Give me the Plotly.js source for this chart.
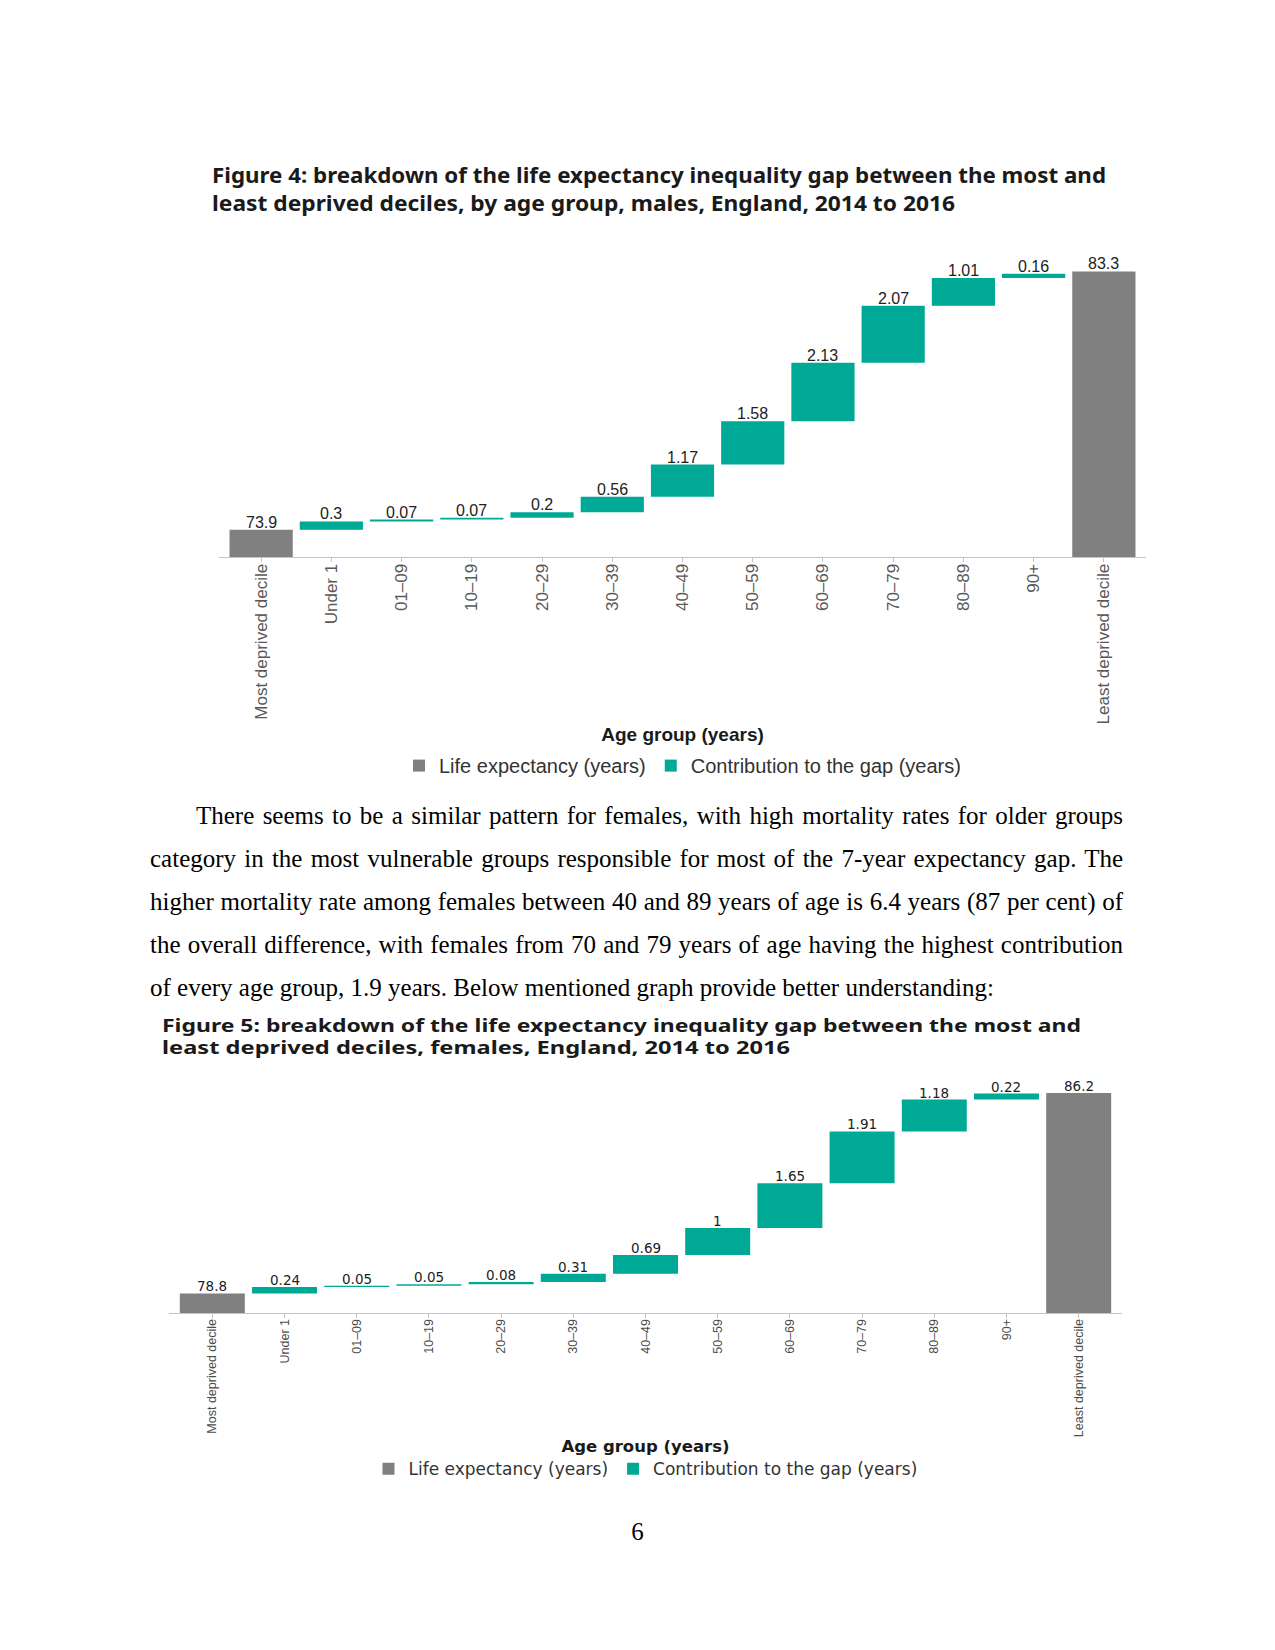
<!DOCTYPE html>
<html><head><meta charset="utf-8">
<script src="https://cdn.plot.ly/plotly-3.0.1.min.js"></script>
<style>
html,body{margin:0;padding:0;background:#fff;}
body{width:1275px;height:1650px;position:relative;overflow:hidden;}
.t{position:absolute;white-space:nowrap;transform-origin:0 50%;}
.title{font-family:"Noto Sans","Liberation Sans",sans-serif;font-weight:700;color:#1a1a1a;}
.para{font-family:"Liberation Serif","Times New Roman",serif;font-size:25px;color:#000;line-height:43px;}
.chart{position:absolute;left:0;width:1275px;}
</style></head><body>

<div id="t1a" class="t title" style="left:212px;top:161px;font-size:21px;line-height:28px;">Figure 4: breakdown of the life expectancy inequality gap between the most and</div>
<div id="t1b" class="t title" style="left:212px;top:189px;font-size:21px;line-height:28px;">least deprived deciles, by age group, males, England, 2014 to 2016</div>

<div id="c1" class="chart" style="top:220px;height:570px;"></div>

<div id="p1" class="t para" style="left:196px;top:794px;">There seems to be a similar pattern for females, with high mortality rates for older groups</div>
<div id="p2" class="t para" style="left:150px;top:837px;">category in the most vulnerable groups responsible for most of the 7-year expectancy gap. The</div>
<div id="p3" class="t para" style="left:150px;top:880px;">higher mortality rate among females between 40 and 89 years of age is 6.4 years (87 per cent) of</div>
<div id="p4" class="t para" style="left:150px;top:923px;">the overall difference, with females from 70 and 79 years of age having the highest contribution</div>
<div id="p5" class="t para" style="left:150px;top:966px;">of every age group, 1.9 years. Below mentioned graph provide better understanding:</div>

<div id="t2a" class="t title" style="left:162px;top:1015px;font-size:17px;line-height:22px;">Figure 5: breakdown of the life expectancy inequality gap between the most and</div>
<div id="t2b" class="t title" style="left:162px;top:1037px;font-size:17px;line-height:22px;">least deprived deciles, females, England, 2014 to 2016</div>

<div id="c2" class="chart" style="top:1050px;height:450px;"></div>

<div class="t para" style="left:0;width:1275px;text-align:center;top:1510px;">6</div>

<script>
// ---------------- data ----------------
const categories = ["Most deprived decile","Under 1","01\u201309","10\u201319","20\u201329","30\u201339","40\u201349","50\u201359","60\u201369","70\u201379","80\u201389","90+","Least deprived decile"];

const maleMostDeprived = 73.9;
const maleLeastDeprived = 83.3;
const maleContrib = [0.3, 0.07, 0.07, 0.2, 0.56, 1.17, 1.58, 2.13, 2.07, 1.01, 0.16];

const femaleMostDeprived = 78.8;
const femaleLeastDeprived = 86.2;
const femaleContrib = [0.24, 0.05, 0.05, 0.08, 0.31, 0.69, 1, 1.65, 1.91, 1.18, 0.22];

const legendNames = ["Life expectancy (years)", "Contribution to the gap (years)"];
const axisTitle = "Age group (years)";

// ---------------- helpers ----------------
const GRAY = '#808080', TEAL = '#00a896';

function cumulativeBases(start, contrib) {
  const out = []; let c = start;
  contrib.forEach(v => { out.push(c); c += v; });
  return out;
}

function buildTraces(most, least, contrib) {
  return [
    {
      type: 'bar', name: legendNames[0],
      x: [categories[0], categories[categories.length - 1]],
      y: [most, least],
      width: 0.9,
      marker: {color: GRAY},
      hoverinfo: 'skip'
    },
    {
      type: 'bar', name: legendNames[1],
      x: categories.slice(1, categories.length - 1),
      y: contrib,
      base: cumulativeBases(most, contrib),
      width: 0.9,
      marker: {color: TEAL},
      hoverinfo: 'skip'
    }
  ];
}

// value labels sitting on top of each bar (positioned through the axes)
function buildLabels(most, least, contrib, font) {
  const bases = cumulativeBases(most, contrib);
  const labels = [];
  const mk = (x, y, txt) => ({x: x, y: y, xref: 'x', yref: 'y', text: txt, showarrow: false,
    yanchor: 'bottom', xanchor: 'center', yshift: -3, font: font});
  labels.push(mk(categories[0], most, String(most)));
  contrib.forEach((v, i) => labels.push(mk(categories[i + 1], bases[i] + v, String(v))));
  labels.push(mk(categories[categories.length - 1], least, String(least)));
  return labels;
}

function buildLayout(o) {
  return {
    width: 1275, height: o.height,
    margin: Object.assign({autoexpand: false}, o.margin),
    paper_bgcolor: 'rgba(0,0,0,0)', plot_bgcolor: 'rgba(0,0,0,0)',
    barmode: 'overlay',
    showlegend: true,
    legend: {orientation: 'h', x: 0.5, xanchor: 'center', y: o.legendY, yanchor: 'middle',
             font: o.legendFont, bgcolor: 'rgba(0,0,0,0)'},
    annotations: o.annotations,
    xaxis: {
      type: 'category', categoryorder: 'array', categoryarray: categories,
      range: [-0.6, categories.length - 0.4],
      tickangle: -90, tickfont: o.tickFont, ticklabelstandoff: o.tickStandoff,
      showline: true, linecolor: '#c4c4c4', linewidth: 1,
      ticks: 'outside', ticklen: 4, tickcolor: '#c4c4c4',
      showgrid: false, zeroline: false, automargin: false,
      title: {text: axisTitle, font: o.titleFont, standoff: o.standoff}
    },
    yaxis: {range: o.yRange, visible: false, showgrid: false, zeroline: false, automargin: false}
  };
}

const cfg = {staticPlot: true, displayModeBar: false};

// Chart 1 (males)
Plotly.newPlot('c1',
  buildTraces(maleMostDeprived, maleLeastDeprived, maleContrib),
  buildLayout({
    height: 570,
    margin: {l: 219, r: 129, t: 20, b: 232.7, pad: 0},
    yRange: [72.907, 84.445],
    legendY: -0.658,
    annotations: buildLabels(maleMostDeprived, maleLeastDeprived, maleContrib,
      {family: 'Liberation Sans, Arial, sans-serif', size: 16, color: '#222'}),
    legendFont: {family: 'Liberation Sans, Arial, sans-serif', size: 20, color: '#333'},
    tickFont: {family: 'Liberation Sans, Arial, sans-serif', size: 17, color: '#595959'},
    titleFont: {family: 'Liberation Sans, Arial, sans-serif', size: 19, weight: 700, color: '#1a1a1a'},
    tickStandoff: -5,
    standoff: 4
  }), cfg);

// Chart 2 (females)
Plotly.newPlot('c2',
  buildTraces(femaleMostDeprived, femaleLeastDeprived, femaleContrib),
  buildLayout({
    height: 450,
    margin: {l: 169.2, r: 153.4, t: 15, b: 187.2, pad: 0},
    yRange: [78.08, 87.234],
    legendY: -0.630,
    annotations: buildLabels(femaleMostDeprived, femaleLeastDeprived, femaleContrib,
      {family: 'DejaVu Sans, sans-serif', size: 13.5, color: '#222'}),
    legendFont: {family: 'DejaVu Sans, sans-serif', size: 17, color: '#333'},
    tickFont: {family: 'Liberation Sans, Arial, sans-serif', size: 12.5, color: '#4d4d4d'},
    titleFont: {family: 'DejaVu Sans, sans-serif', size: 16.5, weight: 700, color: '#1a1a1a'},
    tickStandoff: -4,
    standoff: 4
  }), cfg);

// ---------------- text fitting ----------------
function naturalWidth(el) {
  el.style.transform = 'none';
  el.style.wordSpacing = '0px';
  return el.getBoundingClientRect().width;
}
function fitTitle(id, target) {
  const el = document.getElementById(id);
  const w = naturalWidth(el);
  el.style.transform = 'scaleX(' + (target / w) + ')';
}
function fitParagraph() {
  const last = document.getElementById('p5');
  const s = 844 / naturalWidth(last);
  last.style.transform = 'scaleX(' + s + ')';
  const targets = {p1: 927, p2: 973, p3: 973, p4: 973};
  Object.keys(targets).forEach(id => {
    const el = document.getElementById(id);
    const w = naturalWidth(el);
    const n = (el.textContent.match(/ /g) || []).length;
    const ws = (targets[id] / s - w) / n;
    el.style.wordSpacing = ws + 'px';
    el.style.transform = 'scaleX(' + s + ')';
  });
}
function fitAll() {
  fitTitle('t1a', 894); fitTitle('t1b', 743);
  fitTitle('t2a', 919); fitTitle('t2b', 628);
  fitParagraph();
}
fitAll();
if (document.fonts && document.fonts.ready) { document.fonts.ready.then(fitAll); }
</script>
</body></html>
